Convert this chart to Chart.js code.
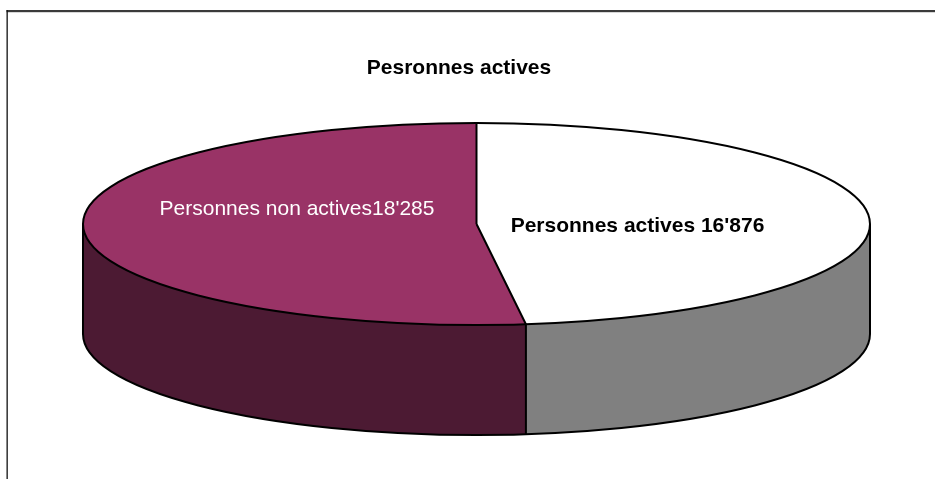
<!DOCTYPE html>
<html>
<head>
<meta charset="utf-8">
<script src="https://cdn.jsdelivr.net/npm/chart.js@4.4.0/dist/chart.umd.min.js"></script>
<style>
html,body{margin:0;padding:0;background:#fff}
#wrap{position:relative;width:935px;height:479px}
</style>
</head>
<body>
<div id="wrap"><canvas id="c"></canvas></div>
<script>
// ---- data ----
const categories = ["Personnes actives", "Personnes non actives"];
const values = [16876, 18285];
const valueLabels = ["16'876", "18'285"];
const labelSeparators = [" ", ""];
const chartTitle = "Pesronnes actives";

// ---- styles ----
const topColors = ["#FFFFFF", "#993366"];
const sideColors = ["#808080", "#4C1A33"];
const labelColors = ["#000000", "#FFFFFF"];
const labelWeights = ["bold", "normal"];
const labelPos = [{x: 637.5, y: 231.5}, {x: 297, y: 215}];
const FONT = "'Liberation Sans', Arial, Helvetica, sans-serif";
const G = {cx: 476.5, cy: 224, rx: 393.5, ry: 101, depth: 110};

function norm(a){ const t = Math.PI*2; return ((a % t) + t) % t; }

function visibleRanges(s, e){
  const out = [];
  for (let k = -2; k <= 2; k++){
    const a = Math.max(s + k*2*Math.PI, 0);
    const b = Math.min(e + k*2*Math.PI, Math.PI);
    if (b > a + 1e-6) out.push([a, b]);
  }
  return out;
}

function sidePath(ctx, a, b){
  ctx.beginPath();
  ctx.ellipse(G.cx, G.cy, G.rx, G.ry, 0, a, b, false);
  ctx.lineTo(G.cx + G.rx*Math.cos(b), G.cy + G.depth + G.ry*Math.sin(b));
  ctx.ellipse(G.cx, G.cy + G.depth, G.rx, G.ry, 0, b, a, true);
  ctx.closePath();
}

const pie3d = {
  id: 'pie3d',
  beforeDraw(chart){
    const ctx = chart.ctx;
    ctx.save();
    ctx.fillStyle = '#ffffff';
    ctx.fillRect(0, 0, chart.width, chart.height);
    ctx.fillStyle = '#3a3a3a';
    ctx.fillRect(6.5, 10, chart.width, 2.2);
    ctx.fillStyle = '#111111';
    ctx.fillRect(6.5, 10, 1.3, chart.height);
    ctx.restore();
  },
  beforeDatasetsDraw(chart){
    const ctx = chart.ctx;
    const arcs = chart.getDatasetMeta(0).data;
    // side walls
    ctx.save();
    arcs.forEach((arc, i) => {
      visibleRanges(arc.startAngle, arc.endAngle).forEach(([a, b]) => {
        sidePath(ctx, a, b);
        ctx.fillStyle = sideColors[i];
        ctx.fill();
      });
    });
    ctx.strokeStyle = '#000';
    ctx.lineWidth = 2;
    ctx.lineJoin = 'round';
    ctx.beginPath();
    ctx.moveTo(G.cx + G.rx, G.cy);
    ctx.lineTo(G.cx + G.rx, G.cy + G.depth);
    ctx.ellipse(G.cx, G.cy + G.depth, G.rx, G.ry, 0, 0, Math.PI, false);
    ctx.lineTo(G.cx - G.rx, G.cy);
    ctx.stroke();
    arcs.forEach(arc => {
      const a = norm(arc.startAngle);
      if (a > 0 && a < Math.PI){
        const x = G.cx + G.rx*Math.cos(a), y = G.cy + G.ry*Math.sin(a);
        ctx.beginPath(); ctx.moveTo(x, y); ctx.lineTo(x, y + G.depth); ctx.stroke();
      }
    });
    ctx.restore();
    // top face transform: map library's circle to ellipse
    const a0 = arcs[0];
    const R = a0.outerRadius;
    ctx.save();
    ctx.translate(G.cx, G.cy);
    ctx.scale(G.rx / R, G.ry / R);
    ctx.translate(-a0.x, -a0.y);
  },
  afterDatasetsDraw(chart){
    const ctx = chart.ctx;
    ctx.restore();
    const arcs = chart.getDatasetMeta(0).data;
    ctx.save();
    ctx.strokeStyle = '#000';
    ctx.lineWidth = 2;
    ctx.lineJoin = 'round';
    ctx.beginPath();
    ctx.ellipse(G.cx, G.cy, G.rx, G.ry, 0, 0, Math.PI*2);
    ctx.stroke();
    ctx.beginPath();
    arcs.forEach(arc => {
      const a = arc.startAngle;
      ctx.moveTo(G.cx, G.cy);
      ctx.lineTo(G.cx + G.rx*Math.cos(a), G.cy + G.ry*Math.sin(a));
    });
    ctx.stroke();
    // labels
    ctx.textAlign = 'center';
    ctx.textBaseline = 'alphabetic';
    categories.forEach((c, i) => {
      ctx.font = labelWeights[i] + ' 21px ' + FONT;
      ctx.fillStyle = labelColors[i];
      ctx.fillText(c + labelSeparators[i] + valueLabels[i], labelPos[i].x, labelPos[i].y);
    });
    ctx.restore();
  }
};

new Chart(document.getElementById('c'), {
  type: 'pie',
  data: {
    labels: categories,
    datasets: [{
      data: values,
      backgroundColor: topColors,
      borderWidth: 0,
      hoverOffset: 0,
      clip: false
    }]
  },
  options: {
    responsive: true,
    maintainAspectRatio: false,
    animation: false,
    devicePixelRatio: 1,
    events: [],
    layout: {padding: {top: 0, right: 17, left: 0, bottom: 0}},
    plugins: {
      legend: {display: false},
      tooltip: {enabled: false},
      title: {
        display: true,
        text: chartTitle,
        color: '#000000',
        font: {family: FONT, size: 21, weight: 'bold'},
        padding: {top: 56, bottom: 10}
      }
    }
  },
  plugins: [pie3d]
});
</script>
</body>
</html>
